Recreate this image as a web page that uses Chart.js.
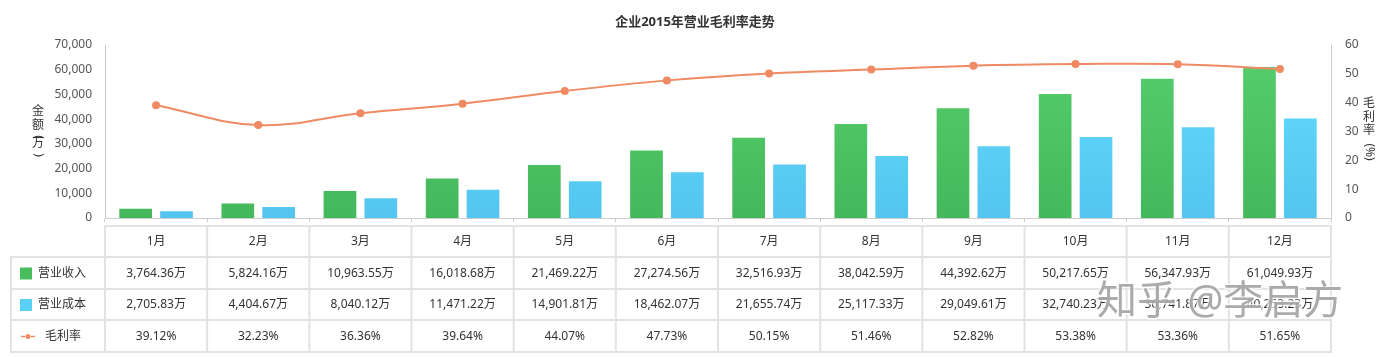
<!DOCTYPE html>
<html><head><meta charset="utf-8">
<script src="https://cdn.jsdelivr.net/npm/chart.js@4/dist/chart.umd.min.js"></script>
<style>
html,body{margin:0;padding:0;background:#fff;}
#wrap{position:relative;width:1390px;height:357px;}
canvas{display:block}
</style></head><body>
<div id="wrap"><canvas id="c" width="1390" height="357"></canvas></div>
<script>
const months = ['1月','2月','3月','4月','5月','6月','7月','8月','9月','10月','11月','12月'];
const revenue = [3764.36,5824.16,10963.55,16018.68,21469.22,27274.56,32516.93,38042.59,44392.62,50217.65,56347.93,61049.93];
const cost = [2705.83,4404.67,8040.12,11471.22,14901.81,18462.07,21655.74,25117.33,29049.61,32740.23,36741.87,40253.23];
const margin = [39.12,32.23,36.36,39.64,44.07,47.73,50.15,51.46,52.82,53.38,53.36,51.65];
const seriesNames = ['营业收入','营业成本','毛利率'];
const chartTitle = '企业2015年营业毛利率走势';
const leftTitle = ['金','额','(','万',')'];
const rightTitle = ['毛','利','率','(%)'];
const watermark = '知乎 @李启方';

const FONT = "'Noto Sans','Noto Sans CJK SC',sans-serif";
const GREEN_T = '#57cf6d', GREEN_B = '#44b85b';
const CYAN_T = '#66ddff', CYAN_B = '#53c5ef';
const LINE_C = '#ef8a62';

function grad(ctx, area, top, bot){
  if(!area) return bot;
  const g = ctx.createLinearGradient(0, area.top, 0, area.bottom);
  g.addColorStop(0, top); g.addColorStop(1, bot);
  return g;
}

const tablePlugin = {
  id:'tablePlugin',
  afterDraw(chart){
    const ctx = chart.ctx, a = chart.chartArea, xs = chart.scales.x;
    const n = months.length;
    const w = (a.right - a.left)/n;
    const L = a.left, R = a.right;
    const ys = [226,257,289,320,352];
    ctx.save();
    // title
    ctx.fillStyle = '#333';
    ctx.font = 'bold 13px ' + FONT;
    ctx.textAlign = 'center'; ctx.textBaseline = 'middle';
    ctx.fillText(chartTitle, 695, 22);
    // left axis title (vertical)
    ctx.font = '12px ' + FONT;
    ctx.fillStyle = '#333';
    const lpos = [112,126,137,144,155];
    leftTitle.forEach((ch,i)=>{
      if(ch==='('||ch===')'){
        ctx.save(); ctx.translate(38, lpos[i]); ctx.rotate(Math.PI/2);
        ctx.fillText(ch,0,0); ctx.restore();
      } else ctx.fillText(ch, 38, lpos[i]);
    });
    const rpos = [104,118,131,152];
    rightTitle.forEach((ch,i)=>{
      if(ch.length>1){
        ctx.save(); ctx.translate(1369, rpos[i]); ctx.rotate(Math.PI/2);
        ctx.fillText(ch,0,0); ctx.restore();
      } else ctx.fillText(ch, 1369, rpos[i]);
    });
    // table grid
    ctx.strokeStyle = '#e2e2e2'; ctx.lineWidth = 2;
    const ln=(x1,y1,x2,y2)=>{ctx.beginPath();ctx.moveTo(x1,y1);ctx.lineTo(x2,y2);ctx.stroke();};
    ln(L-1, ys[0], R+1, ys[0]);
    for(let k=1;k<ys.length;k++) ln(10, ys[k], R+1, ys[k]);
    ln(11, ys[1], 11, ys[4]);
    for(let i=0;i<=n;i++){ const xx = xs.getPixelForValue(0) - w/2 + i*w; ln(xx, ys[0], xx, ys[4]); }
    // texts
    ctx.fillStyle = '#333';
    ctx.font = '12px ' + FONT;
    ctx.textAlign = 'center'; ctx.textBaseline = 'middle';
    const cy = k => (ys[k]+ys[k+1])/2 + 0.5;
    const fmt = v => v.toLocaleString('en-US',{minimumFractionDigits:2,maximumFractionDigits:2}) + '万';
    for(let i=0;i<n;i++){
      const cx = xs.getPixelForValue(i);
      ctx.fillText(months[i], cx, cy(0));
      ctx.fillText(fmt(revenue[i]), cx, cy(1));
      ctx.fillText(fmt(cost[i]), cx, cy(2));
      ctx.fillText(margin[i].toFixed(2)+'%', cx, cy(3));
    }
    // row labels
    ctx.textAlign = 'left';
    ctx.fillStyle = '#47bd5e'; ctx.fillRect(20, cy(1)-6, 12, 12);
    ctx.fillStyle = '#5bd0f5'; ctx.fillRect(20, cy(2)-6, 12, 12);
    ctx.strokeStyle = LINE_C; ctx.lineWidth = 1.5;
    ln(21, cy(3), 25, cy(3)); ln(31, cy(3), 35, cy(3));
    ctx.fillStyle = LINE_C; ctx.beginPath(); ctx.arc(28, cy(3), 2.5, 0, Math.PI*2); ctx.fill();
    ctx.fillStyle = '#333';
    ctx.fillText(seriesNames[0], 38, cy(1));
    ctx.fillText(seriesNames[1], 38, cy(2));
    ctx.fillText(seriesNames[2], 45, cy(3));
    // watermark
    ctx.font = '40px ' + FONT;
    ctx.textBaseline = 'middle';
    ctx.lineWidth = 3; ctx.strokeStyle = 'rgba(255,255,255,0.7)';
    ctx.strokeText(watermark, 1097, 303);
    ctx.fillStyle = 'rgba(150,150,150,0.8)';
    ctx.fillText(watermark, 1097, 303);
    ctx.restore();
  }
};

Chart.defaults.font.family = FONT;
Chart.defaults.font.size = 12;
Chart.defaults.color = '#555';

new Chart(document.getElementById('c'), {
  data:{
    labels: months,
    datasets:[
      {type:'bar', label:seriesNames[0], data:revenue, yAxisID:'y', order:1,
       backgroundColor: c=>grad(c.chart.ctx, c.chart.chartArea, GREEN_T, GREEN_B),
       categoryPercentage:0.8, barPercentage:0.8},
      {type:'bar', label:seriesNames[1], data:cost, yAxisID:'y', order:1,
       backgroundColor: c=>grad(c.chart.ctx, c.chart.chartArea, CYAN_T, CYAN_B),
       categoryPercentage:0.8, barPercentage:0.8},
      {type:'line', label:seriesNames[2], data:margin, yAxisID:'y1', order:0,
       borderColor:LINE_C, backgroundColor:LINE_C, borderWidth:2, tension:0.4,
       pointRadius:4, pointHoverRadius:4, pointBackgroundColor:LINE_C, pointBorderWidth:0}
    ]
  },
  options:{
    responsive:false, animation:false,
    layout:{padding:{top:45, left:0, right:0, bottom:0}},
    plugins:{legend:{display:false}, title:{display:false}, tooltip:{enabled:false}},
    scales:{
      x:{
        offset:true,
        grid:{display:true, offset:true, drawOnChartArea:false, tickLength:4, color:'#ccc'},
        border:{display:true, color:'#ccc'},
        ticks:{display:false},
        afterFit(s){ s.height = 357-218; }
      },
      y:{
        position:'left', min:0, max:70000,
        ticks:{stepSize:10000, padding:5, color:'#555', callback:v=>v.toLocaleString('en-US')},
        grid:{display:false},
        border:{display:true, color:'#ccc'},
        afterFit(s){ s.width = 105; }
      },
      y1:{
        position:'right', min:0, max:60,
        ticks:{stepSize:10, padding:6, color:'#555'},
        grid:{display:false},
        border:{display:true, color:'#ccc'},
        afterFit(s){ s.width = 1390-1331; }
      }
    }
  },
  plugins:[tablePlugin]
});
</script>
</body></html>
